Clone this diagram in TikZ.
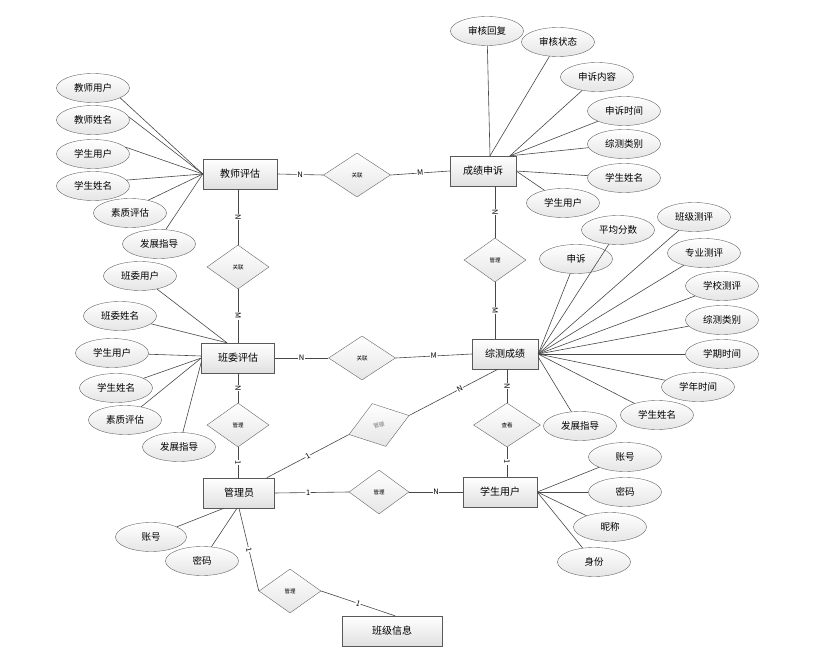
\documentclass[tikz,border=0pt]{standalone}
\usepackage{fontspec}
\setmainfont{Noto Sans CJK SC}
\usetikzlibrary{shapes.geometric}
\begin{document}
\begin{tikzpicture}[x=1pt,y=-1pt,
  ent/.style={rectangle, draw=black!65, top color=white, bottom color=black!12, minimum width=#1, minimum height=30, inner sep=0, font=\fontsize{10}{12}\selectfont},
  ent/.default=74,
  attr/.style={ellipse, draw=black!60, top color=white, bottom color=black!10, minimum width=73, minimum height=29, inner sep=0, font=\fontsize{9.5}{11}\selectfont},
  dia/.style={diamond, draw=black!60, top color=white, bottom color=black!10, minimum width=#1, minimum height=44, inner sep=0, font=\fontsize{5.5}{6}\selectfont},
  dia/.default=62,
  conn/.style={draw=black!72, line width=0.6pt},
  lab/.style={font=\fontsize{7.5}{8}\selectfont, fill=white, inner sep=0.6pt, sloped}
]
\useasboundingbox (0,0) rectangle (817,663);

% entities
\node[ent=74] (jspg) at (240,174) {教师评估};
\node[ent=66] (cjss) at (483,171) {成绩申诉};
\node[ent=73] (bwpg) at (238,358) {班委评估};
\node[ent=66] (zccj) at (505,354) {综测成绩};
\node[ent=71] (gly)  at (239,493) {管理员};
\node[ent=74] (xsyh) at (500,492) {学生用户};
\node[ent=100] (bjxx) at (392,631) {班级信息};

% relationships
\node[dia=67] (d1) at (357,175) {关联};
\node[dia=62] (d2) at (238,267) {关联};
\node[dia=67] (d3) at (362,358) {关联};
\node[dia=62] (d4) at (495,260) {管理};
\node[dia=62] (d5) at (238,425) {管理};
\node[dia=63, minimum height=45, rotate=17.6, text=black!55] (d6) at (379,425) {管理};
\node[dia=67] (d7) at (507,425) {查看};
\node[dia=60] (d8) at (379,492) {管理};
\node[dia=62] (d9) at (290,591) {管理};

% relationship connectors
\draw[conn] (jspg.east) -- node[lab]{N} (d1.west);
\draw[conn] (d1.east) -- node[lab]{M} (cjss.west);
\draw[conn] (jspg.south -| d2.north) -- node[lab]{N} (d2.north);
\draw[conn] (d2.south) -- node[lab]{M} (bwpg.north -| d2.south);
\draw[conn] (bwpg.east) -- node[lab]{N} (d3.west);
\draw[conn] (d3.east) -- node[lab]{M} (zccj.west);
\draw[conn] (bwpg.south -| d5.north) -- node[lab]{N} (d5.north);
\draw[conn] (d5.south) -- node[lab]{1} (gly.north -| d5.south);
\draw[conn] (cjss.south -| d4.north) -- node[lab]{N} (d4.north);
\draw[conn] (d4.south) -- node[lab]{M} (zccj.north -| d4.south);
\draw[conn] (zccj.south -| d7.north) -- node[lab]{N} (d7.north);
\draw[conn] (d7.south) -- node[lab]{1} (xsyh.north -| d7.south);
\draw[conn] (gly.east) -- node[lab, pos=0.45]{1} (d8.west);
\draw[conn] (d8.east) -- node[lab]{N} (xsyh.west);
\draw[conn] ([xshift=-8pt]gly.north east) -- node[lab]{1} (d6.west);
\draw[conn] (d6.east) -- node[lab, pos=0.57]{N} ([xshift=-7pt]zccj.south);
\draw[conn] (gly.south) -- node[lab]{1} (d9.west);
\draw[conn] (d9.east) -- node[lab]{1} ([xshift=3pt]bjxx.north);

% 教师评估 attributes
\node[attr] (t1) at (93,88) {教师用户};
\node[attr] (t2) at (93,120) {教师姓名};
\node[attr] (t3) at (93,154) {学生用户};
\node[attr] (t4) at (93,186) {学生姓名};
\node[attr] (t5) at (130,213) {素质评估};
\node[attr] (t6) at (159,244) {发展指导};
\foreach \a/\ang in {t1/-20,t2/5,t3/12,t4/10,t5/35,t6/65}
  \draw[conn] (jspg.west) -- (\a.\ang);

% 成绩申诉 attributes
\node[attr] (c1) at (487,31) {审核回复};
\node[attr] (c2) at (558,42) {审核状态};
\node[attr] (c3) at (597,77) {申诉内容};
\node[attr] (c4) at (624,111) {申诉时间};
\node[attr] (c5) at (624,144) {综测类别};
\node[attr] (c6) at (624,178) {学生姓名};
\node[attr] (c7) at (563,203) {学生用户};
\draw[conn] ([xshift=7pt]cjss.north) -- (c1);
\draw[conn] ([xshift=7pt]cjss.north) -- (c2);
\draw[conn] ([xshift=27pt]cjss.north) -- (c3);
\draw[conn] ([xshift=27pt]cjss.north) -- (c4);
\draw[conn] ([xshift=27pt]cjss.north) -- (c5);
\draw[conn] (cjss.east) -- (c6);
\draw[conn] (cjss.east) -- (c7);

% 综测成绩 attributes
\node[attr] (z1) at (576,259) {申诉};
\node[attr] (z2) at (618,230) {平均分数};
\node[attr] (z3) at (694,217) {班级测评};
\node[attr] (z4) at (704,253) {专业测评};
\node[attr] (z5) at (722,286) {学校测评};
\node[attr] (z6) at (722,320) {综测类别};
\node[attr] (z7) at (722,354) {学期时间};
\node[attr] (z8) at (698,387) {学年时间};
\node[attr] (z9) at (657,415) {学生姓名};
\node[attr] (z10) at (580,426) {发展指导};
\foreach \a in {z1,z2,z3,z4,z5,z6,z7,z8,z9}
  \draw[conn] (zccj.east) -- (\a);
\draw[conn] ([yshift=-3pt]zccj.east) -- (z10);

% 班委评估 attributes
\node[attr] (b1) at (140,276) {班委用户};
\node[attr] (b2) at (120,316) {班委姓名};
\node[attr] (b3) at (112,353) {学生用户};
\node[attr] (b4) at (116,388) {学生姓名};
\node[attr] (b5) at (125,420) {素质评估};
\node[attr] (b6) at (179,447) {发展指导};
\draw[conn] ([xshift=-11pt]bwpg.north) -- (b1);
\draw[conn] ([xshift=-11pt]bwpg.north) -- (b2);
\draw[conn] ([yshift=2pt]bwpg.west) -- (b3);
\draw[conn] (bwpg.west) -- (b4);
\draw[conn] (bwpg.west) -- (b5);
\draw[conn] ([yshift=-4pt]bwpg.west) -- (b6);

% 管理员 attributes
\node[attr, minimum width=71] (g1) at (151,537) {账号};
\node[attr] (g2) at (202,561) {密码};
\draw[conn] ([xshift=-15pt]gly.south) -- (g1);
\draw[conn] ([xshift=-2pt]gly.south) -- (g2);

% 学生用户 attributes
\node[attr] (s1) at (625,457) {账号};
\node[attr] (s2) at (625,492) {密码};
\node[attr] (s3) at (610,527) {昵称};
\node[attr] (s4) at (594,562) {身份};
\foreach \a in {s1,s2,s3,s4}
  \draw[conn] (xsyh.east) -- (\a);
\end{tikzpicture}
\end{document}
